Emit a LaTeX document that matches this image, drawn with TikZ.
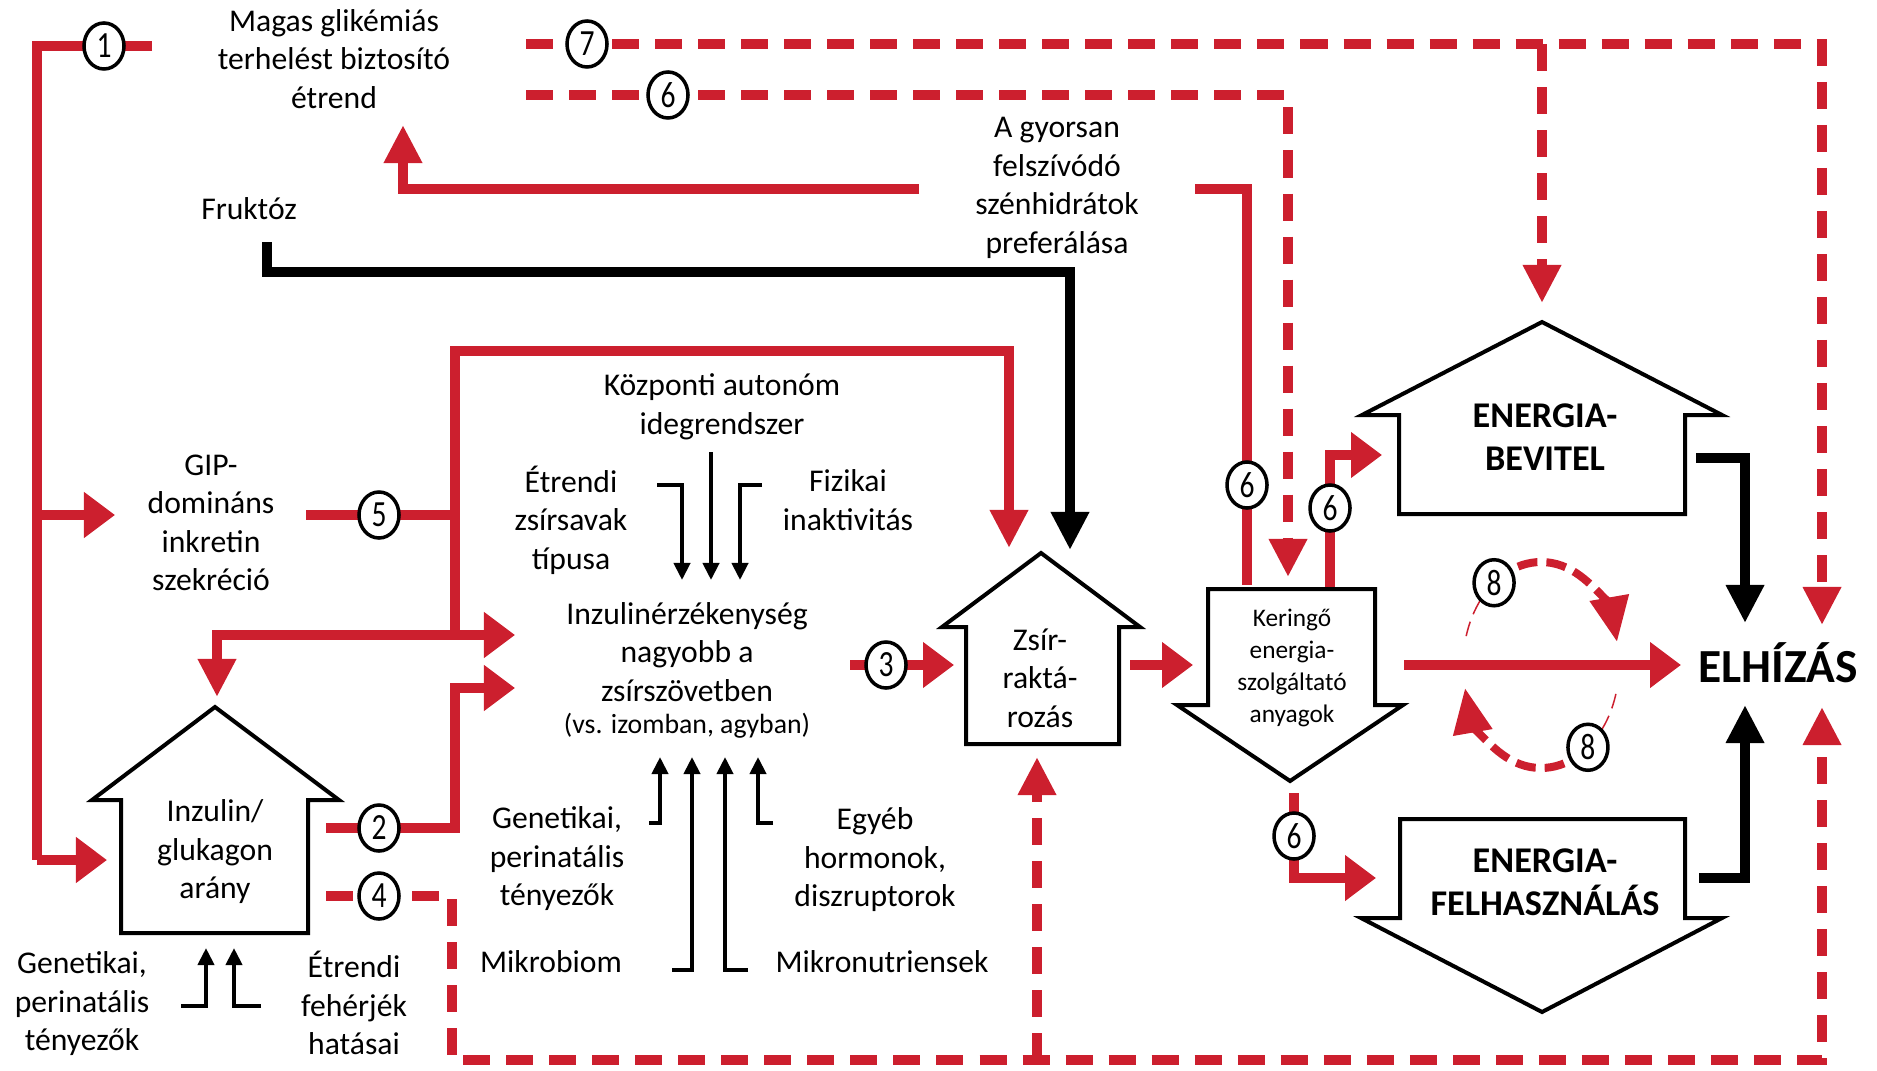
\documentclass[tikz,border=0pt]{standalone}
\usepackage{fontspec}
\setmainfont{Carlito}
\usetikzlibrary{arrows.meta,shapes.geometric,calc}
\definecolor{myred}{RGB}{204,31,46}
\tikzset{
  rl/.style={draw=myred,line width=0.095cm},
  bl/.style={draw=black,line width=0.095cm},
  dl/.style={draw=myred,line width=0.095cm,dash pattern=on 0.27cm off 0.16cm},
  hh/.style={-{Triangle[length=0.31cm,width=0.44cm]}},
  vh/.style={-{Triangle[length=0.38cm,width=0.36cm]}},
  th/.style={draw=black,line width=0.04cm,-{Triangle[length=0.17cm,width=0.16cm]}},
  box/.style={draw=black,line width=0.04cm,fill=white},
  num/.style={ellipse,draw=black,fill=white,line width=0.035cm,minimum width=0.40cm,minimum height=0.46cm,inner sep=0pt,font=\fontsize{10.5}{12}\selectfont},
  lbl/.style={align=center,inner sep=0pt,font=\fontsize{9}{10.95}\selectfont},
  small/.style={align=center,inner sep=0pt,font=\fontsize{7.2}{9.1}\selectfont},
  big/.style={align=center,inner sep=0pt,font=\fontsize{10.3}{12.2}\selectfont\bfseries},
  arcthick/.style={draw=myred,line width=0.08cm,dash pattern=on 0.2cm off 0.09cm,-{Triangle[length=0.45cm,width=0.38cm]}},
  arcthin/.style={draw=myred,line width=0.015cm,dash pattern=on 0.15cm off 0.08cm},
}
\newcommand{\dg}[1]{\scalebox{0.8}[1]{#1}}
\begin{document}
\begin{tikzpicture}[x=0.01cm,y=-0.01cm]
\useasboundingbox (0,0) rectangle (1877,1070);
% ---------- key coordinates ----------
\coordinate (c1) at (104,46);
\coordinate (c7) at (587,44);
\coordinate (c6t) at (668,95);
\coordinate (c5) at (379,515);
\coordinate (c2) at (379,828);
\coordinate (c4) at (379,896);
\coordinate (c3) at (886,665);
\coordinate (c6a) at (1247,485);
\coordinate (c6b) at (1330,508);
\coordinate (c6c) at (1294,836);
\coordinate (c8) at (1541,665);
\coordinate (c8t) at ($(c8)+(-127:78 and 103)$);
\coordinate (c8b) at ($(c8)+(53:78 and 103)$);

% ---------- dashed red connectors ----------
\draw[dl,vh] (526,44) -| (1822,625);
\draw[dl,vh] (1542,44) -- (1542,303);
\draw[dl,vh] (526,95) -| (1288,577);
\draw[dl,vh] (326,896) -- (452,896) -- (452,1060) -- (1822,1060) -- (1822,707);
\draw[dl,vh] (1037,1060) -- (1037,757);

% ---------- solid red connectors ----------
\draw[rl] (152,46) -- (37,46) -- (37,860);
\draw[rl,hh] (37,860) -- (107,860);
\draw[rl,hh] (37,515) -- (115,515);
\draw[rl,vh] (919,189) -| (403,125);
\draw[rl] (1195,189) -| (1247,585);
\draw[rl] (306,515) -- (455,515);
\draw[rl,vh] (455,635) -- (455,351) -- (1009,351) -- (1009,548);
\draw[rl,{Triangle[length=0.38cm,width=0.36cm]}-{Triangle[length=0.31cm,width=0.44cm]}] (217,697) -- (217,635) -- (515,635);
\draw[rl,hh] (326,828) -- (455,828) -- (455,688) -- (515,688);
\draw[rl,hh] (850,665) -- (954,665);
\draw[rl,hh] (1130,665) -- (1193,665);
\draw[rl,hh] (1404,665) -- (1681,665);
\draw[rl,hh] (1330,589) -- (1330,455) -- (1382,455);
\draw[rl,hh] (1294,793) -- (1294,878) -- (1376,878);

% ---------- black connectors ----------
\draw[bl,vh] (267,242) -- (267,272) -- (1070,272) -- (1070,550);
\draw[bl,vh] (1696,458) -- (1745,458) -- (1745,623);
\draw[bl,vh] (1699,878) -- (1745,878) -- (1745,705);

\draw[th] (657,485) -- (682,485) -- (682,580);
\draw[th] (711,452) -- (711,580);
\draw[th] (762,485) -- (740,485) -- (740,580);
\draw[th] (649,823) -- (660,823) -- (660,757);
\draw[th] (672,970) -- (692,970) -- (692,757);
\draw[th] (748,970) -- (725,970) -- (725,757);
\draw[th] (773,823) -- (758,823) -- (758,757);
\draw[th] (181,1006) -- (206,1006) -- (206,948);
\draw[th] (261,1006) -- (234,1006) -- (234,948);

% ---------- feedback arcs (8) ----------
\draw[arcthick] (c8t) arc[start angle=-127,end angle=-13,x radius=78,y radius=103];
\draw[arcthin] (c8t) arc[start angle=-127,end angle=-165,x radius=78,y radius=103];
\draw[arcthick] (c8b) arc[start angle=53,end angle=167,x radius=78,y radius=103];
\draw[arcthin] (c8b) arc[start angle=53,end angle=15,x radius=78,y radius=103];

% ---------- shapes ----------
\draw[box] (215,707) -- (339,800) -- (308,800) -- (308,933) -- (121,933) -- (121,800) -- (92,800) -- cycle;
\draw[box] (1041,553) -- (1140,627) -- (1119,627) -- (1119,744) -- (966,744) -- (966,627) -- (942,627) -- cycle;
\draw[box] (1208,589) -- (1375,589) -- (1375,705) -- (1403,705) -- (1290,781) -- (1177,705) -- (1208,705) -- cycle;
\draw[box] (1542,322) -- (1722,415) -- (1685,415) -- (1685,514) -- (1399,514) -- (1399,415) -- (1362,415) -- cycle;
\draw[box] (1400,819) -- (1685,819) -- (1685,918) -- (1722,918) -- (1542,1012) -- (1361,918) -- (1400,918) -- cycle;

% ---------- number circles ----------
\node[num] (n1) at (c1) {\dg{1}};
\node[num] (n7) at (c7) {\dg{7}};
\node[num] (n6t) at (c6t) {\dg{6}};
\node[num] (n5) at (c5) {\dg{5}};
\node[num] (n2) at (c2) {\dg{2}};
\node[num] (n4) at (c4) {\dg{4}};
\node[num] (n3) at (c3) {\dg{3}};
\node[num] (n6a) at (c6a) {\dg{6}};
\node[num] (n6b) at (c6b) {\dg{6}};
\node[num] (n6c) at (c6c) {\dg{6}};
\node[num] (n8t) at (c8t) {\dg{8}};
\node[num] (n8b) at (c8b) {\dg{8}};

% ---------- texts ----------
\node[lbl] (magas) at (334,59) {Magas glikémiás\\terhelést biztosító\\étrend};
\node[lbl] (gyors) at (1057,188) {A gyorsan\\felszívódó\\szénhidrátok\\preferálása};
\node[lbl] (fruk) at (249,209) {Fruktóz};
\node[lbl] (gip) at (211,523) {GIP-\\domináns\\inkretin\\szekréció};
\node[lbl] (kozp) at (722,407) {Központi autonóm\\idegrendszer};
\node[lbl] (etrzs) at (571,520) {Étrendi\\zsírsavak\\típusa};
\node[lbl] (fiz) at (848,500) {Fizikai\\inaktivitás};
\node[lbl] (inzerz) at (687,652) {Inzulinérzékenység\\nagyobb a\\zsírszövetben};
\node[align=center,inner sep=0pt,font=\fontsize{7.9}{9.5}\selectfont] (vs) at (687,726) {(vs. izomban, agyban)};
\node[lbl] (genm) at (557,859) {Genetikai,\\perinatális\\tényezők};
\node[lbl] (egyeb) at (875,860) {Egyéb\\hormonok,\\diszruptorok};
\node[lbl] (mikrob) at (551,962) {Mikrobiom};
\node[lbl] (mikron) at (882,962) {Mikronutriensek};
\node[lbl] (genl) at (82,1004) {Genetikai,\\perinatális\\tényezők};
\node[lbl] (etrfe) at (354,1003) {Étrendi\\fehérjék\\hatásai};
\node[lbl] (inzgl) at (215,852) {Inzulin/\\glukagon\\arány};
\node[lbl] (zsir) at (1040,678) {Zsír-\\raktá-\\rozás};
\node[small] (ker) at (1292,668) {Keringő\\energia-\\szolgáltató\\anyagok};
\node[big] (bev) at (1545,437) {ENERGIA-\\BEVITEL};
\node[big] (felh) at (1545,882) {ENERGIA-\\FELHASZNÁLÁS};
\node[inner sep=0pt,font=\fontsize{13.5}{16}\selectfont\bfseries] (elh) at (1778,663) {ELHÍZÁS};
\end{tikzpicture}
\end{document}
